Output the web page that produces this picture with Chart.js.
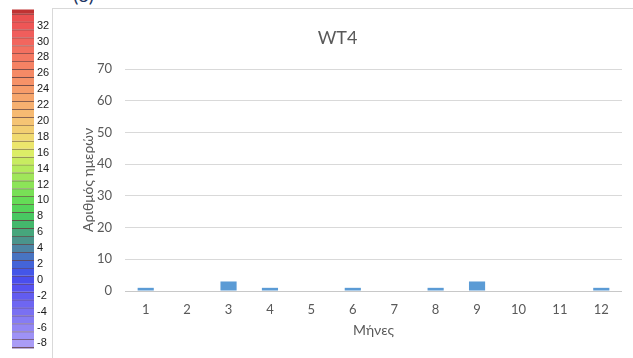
<!DOCTYPE html>
<html>
<head>
<meta charset="utf-8">
<script src="https://cdn.jsdelivr.net/npm/chart.js@4/dist/chart.umd.min.js"></script>
<style>
  html, body { margin: 0; padding: 0; background: #fff; }
  body { width: 633px; height: 358px; position: relative; overflow: hidden; font-family: Lato, "Open Sans", sans-serif; }
  #panelTag { position: absolute; left: 73px; top: -18px; font: 20px Lato, sans-serif; color: #1f3864; }
  #scaleBox { position: absolute; left: 0; top: 0; width: 52px; height: 358px; }
  #chartBox { position: absolute; left: 52px; top: 8px; width: 580px; height: 349px;
              border-left: 1px solid #d9d9d9; border-top: 1px solid #d9d9d9; }
</style>
</head>
<body>
<div id="panelTag">(δ)</div>
<div id="scaleBox"><canvas id="scaleCanvas" width="52" height="358"></canvas></div>
<div id="chartBox"><canvas id="barCanvas" width="580" height="349"></canvas></div>
<script>
// Monthly counts of days with weather type WT4
const months = ['1', '2', '3', '4', '5', '6', '7', '8', '9', '10', '11', '12'];
const dayCounts = [1, 0, 3, 1, 0, 1, 0, 1, 3, 0, 0, 1];
const countTicks = [0, 10, 20, 30, 40, 50, 60, 70];

// Temperature colour key: one band per degree, top to bottom
const keyLevels = [34, 33, 32, 31, 30, 29, 28, 27, 26, 25, 24, 23, 22, 21, 20, 19, 18, 17, 16, 15,
                   14, 13, 12, 11, 10, 9, 8, 7, 6, 5, 4, 3, 2, 1, 0, -1, -2, -3, -4, -5,
                   -6, -7, -8, -9];
const keyColours = ['#c03232', '#ea5050', '#ee5656', '#f05e5c', '#f2665e', '#f37060', '#f47862', '#f58264',
                    '#f58a66', '#f69268', '#f69c6a', '#f6a66c', '#f6b070', '#f6ba72', '#f5c474', '#f2ce72',
                    '#f0da70', '#ece66c', '#dcee66', '#c8ec60', '#b4ea5c', '#a0e65a', '#8ce458', '#78e056',
                    '#64dc56', '#54d45a', '#48c862', '#44b86c', '#46a67c', '#4a948c', '#4c84a4', '#4874c2',
                    '#4464d8', '#4456e8', '#4a4eee', '#5652f0', '#625cf0', '#6e66f2', '#7a70f2', '#867cf4',
                    '#9286f4', '#9e92f6', '#aa9cf6', '#b4a6f8'];
const keyTicks = [32, 30, 28, 26, 24, 22, 20, 18, 16, 14, 12, 10, 8, 6, 4, 2, 0, -2, -4, -6, -8];

const grey = '#595959';

// Colour key as floating bars sharing one column
new Chart(document.getElementById('scaleCanvas'), {
  type: 'bar',
  data: {
    labels: [''],
    datasets: keyLevels.map((v, i) => ({
      data: [[v - 0.5, v + 0.5]],
      backgroundColor: keyColours[i],
      borderColor: 'rgba(50, 5, 5, 0.75)',
      borderWidth: { top: 1, bottom: 0, left: 0, right: 0 },
      borderSkipped: false,
      barPercentage: 1,
      categoryPercentage: 1
    }))
  },
  options: {
    responsive: false,
    animation: false,
    layout: { padding: { left: 12, right: 0, top: 0, bottom: 0 } },
    plugins: { legend: { display: false }, tooltip: { enabled: false } },
    scales: {
      x: { display: false, stacked: true },
      y: {
        position: 'right',
        min: -8.63,
        max: 34.02,
        afterBuildTicks: (s) => { s.ticks = keyTicks.map(v => ({ value: v })); },
        afterFit: (s) => { s.width = 18; },
        grid: { display: false, drawTicks: false },
        border: { display: false },
        ticks: { padding: 3, color: '#1a1a1a', font: { family: 'Liberation Sans, Arial', size: 11 } }
      }
    }
  }
});

// Monthly bar chart
new Chart(document.getElementById('barCanvas'), {
  type: 'bar',
  data: {
    labels: months,
    datasets: [{
      data: dayCounts,
      backgroundColor: '#5b9bd5',
      barPercentage: 0.39,
      categoryPercentage: 1
    }]
  },
  options: {
    responsive: false,
    animation: false,
    layout: { padding: { left: 0, right: 11, top: 0, bottom: 0 } },
    plugins: {
      legend: { display: false },
      tooltip: { enabled: false },
      title: {
        display: true,
        text: 'WT4',
        color: grey,
        font: { family: 'Lato', size: 18, weight: 'normal' },
        padding: { top: 18, bottom: 20.4 }
      }
    },
    scales: {
      x: {
        afterFit: (s) => { s.height = 67; },
        grid: { display: false, drawTicks: false },
        border: { display: false },
        ticks: { padding: 11.2, color: grey, font: { family: 'Lato', size: 13 } },
        title: {
          display: true,
          text: 'Μήνες',
          color: grey,
          font: { family: 'Lato', size: 14 },
          padding: { top: 0, bottom: 19.6 }
        }
      },
      y: {
        min: 0,
        max: 70,
        afterBuildTicks: (s) => { s.ticks = countTicks.map(v => ({ value: v })); },
        afterFit: (s) => { s.width = 72; },
        grid: {
          drawTicks: false,
          color: (c) => c.tick && c.tick.value === 0 ? '#c8c8c8' : '#d9d9d9',
          lineWidth: 1
        },
        border: { display: false },
        ticks: { padding: 13, color: grey, font: { family: 'Lato', size: 13 } },
        title: {
          display: true,
          text: 'Αριθμός ημερών',
          color: grey,
          font: { family: 'Lato', size: 14 },
          padding: { top: 26.6, bottom: 0 }
        }
      }
    }
  }
});
</script>
</body>
</html>
